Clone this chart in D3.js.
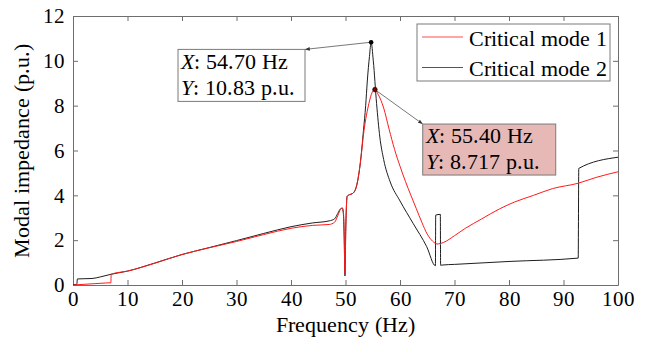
<!DOCTYPE html>
<html>
<head>
<meta charset="utf-8">
<script src="https://cdn.jsdelivr.net/npm/d3@7"></script>
<style>
  @font-face { font-family: 'LocSerif'; src: local('Liberation Serif'), local('LiberationSerif'), local('LiberationSerif-Regular'); }
  @font-face { font-family: 'LocSerif'; font-style: italic; src: local('Liberation Serif Italic'), local('LiberationSerif-Italic'); }
  body { margin: 0; background: #fff; }
</style>
</head>
<body>
<div id="chart"></div>
<script>
// frequency (Hz) and modal impedance (p.u.)
const freq1 = [0, 2, 4, 6, 6.95, 7.0, 10, 15, 20, 25, 30, 35, 40, 44, 47, 48, 48.6, 49.1, 49.4, 49.6, 49.75, 49.9, 50.05, 50.3, 50.5, 51, 51.4, 51.9, 52.7, 53.4, 54.3, 54.9, 55.4, 56, 57, 58, 59, 60, 61, 62, 63, 64, 65, 66, 66.8, 68, 70, 72, 75, 78.3, 81, 84.5, 88, 92.7, 96, 100];
const mode1 = [0.0, 0.03, 0.06, 0.09, 0.1, 0.48, 0.62, 0.97, 1.36, 1.66, 1.94, 2.25, 2.53, 2.66, 2.7, 2.8, 3.1, 3.38, 3.45, 3.3, 2.4, 0.5, 2.5, 3.95, 4.0, 4.05, 4.1, 4.3, 5.4, 6.9, 8.1, 8.6, 8.717, 8.5, 7.9, 6.95, 6.05, 5.3, 4.62, 4.0, 3.4, 2.8, 2.27, 1.95, 1.83, 1.9, 2.2, 2.53, 2.95, 3.4, 3.7, 4.0, 4.3, 4.54, 4.8, 5.05];

const freq2 = [0, 0.7, 0.8, 2, 3.5, 5, 7, 10, 15, 20, 25, 30, 35, 40, 44, 47, 48, 48.6, 49.1, 49.4, 49.6, 49.75, 49.9, 50.05, 50.3, 50.5, 51, 51.4, 51.7, 52.2, 52.7, 53.3, 53.7, 54.0, 54.4, 54.7, 55.1, 55.7, 56.3, 57.0, 58.2, 60, 62.4, 64.9, 66.5, 66.55, 67.4, 67.45, 67.7, 70, 80, 92.7, 92.8, 100];
const mode2 = [0.02, 0.02, 0.27, 0.28, 0.29, 0.36, 0.48, 0.62, 0.98, 1.36, 1.67, 1.98, 2.3, 2.6, 2.77, 2.86, 2.95, 3.2, 3.4, 3.42, 3.2, 2.2, 0.4, 2.5, 3.95, 4.0, 4.05, 4.1, 4.2, 4.6, 5.4, 6.9, 8.0, 9.1, 10.2, 10.83, 10.0, 8.1, 6.6, 5.6, 4.6, 3.75, 2.75, 1.71, 0.86, 3.12, 3.15, 0.88, 0.89, 0.92, 1.05, 1.2, 5.2, 5.7];

const seriesNames = ['Critical mode 1', 'Critical mode 2'];
const xTicks = [0, 10, 20, 30, 40, 50, 60, 70, 80, 90, 100];
const yTicks = [0, 2, 4, 6, 8, 10, 12];

// data tips: point and the box corner the arrow points to
const tip2 = { x: 54.70, y: 10.83, bx: 42.57, by: 10.51, label: ['54.70 Hz', '10.83 p.u.'] };
const tip1 = { x: 55.40, y: 8.717, bx: 64.17, by: 7.18, label: ['55.40 Hz', '8.717 p.u.'] };

const serif = "LocSerif, 'Liberation Serif', serif";

const W = 646, H = 341;
const margin = { top: 16, right: 28, bottom: 56, left: 73 };
const width = W - margin.left - margin.right;
const height = H - margin.top - margin.bottom;

const svg = d3.select('#chart').append('svg')
    .attr('width', W)
    .attr('height', H);

const g = svg.append('g')
    .attr('transform', `translate(${margin.left},${margin.top})`);

const x = d3.scaleLinear().domain([0, 100]).range([0, width]);
const y = d3.scaleLinear().domain([0, 12]).range([height, 0]);

const axisColor = '#6e6e6e';

// box axes with inward ticks
g.append('g').attr('transform', `translate(0,${height})`)
    .call(d3.axisBottom(x).tickValues(xTicks).tickSizeInner(-5).tickSizeOuter(0).tickPadding(6));
g.append('g')
    .call(d3.axisTop(x).tickValues(xTicks).tickSizeInner(-5).tickSizeOuter(0).tickFormat(''));
g.append('g')
    .call(d3.axisLeft(y).tickValues(yTicks).tickSizeInner(-5).tickSizeOuter(0).tickPadding(8));
g.append('g').attr('transform', `translate(${width},0)`)
    .call(d3.axisRight(y).tickValues(yTicks).tickSizeInner(-5).tickSizeOuter(0).tickFormat(''));

g.selectAll('.domain, .tick line').attr('stroke', axisColor);
g.selectAll('.tick text')
    .attr('fill', '#000')
    .style('font-family', serif)
    .style('font-size', '21px');

// axis titles
svg.append('text')
    .attr('x', margin.left + width / 2)
    .attr('y', 332)
    .attr('text-anchor', 'middle')
    .style('font-family', serif)
    .style('font-size', '22px')
    .text('Frequency (Hz)');

svg.append('text')
    .attr('transform', `translate(29,${margin.top + height / 2}) rotate(-90)`)
    .attr('text-anchor', 'middle')
    .style('font-family', serif)
    .style('font-size', '22px')
    .text('Modal impedance (p.u.)');

const line = d3.line()
    .x(d => x(d[0]))
    .y(d => y(d[1]))
    .curve(d3.curveMonotoneX);

const data1 = freq1.map((f, i) => [f, mode1[i]]);
const data2 = freq2.map((f, i) => [f, mode2[i]]);

g.append('path').datum(data2)
    .attr('fill', 'none').attr('stroke', '#1e1e1e').attr('stroke-width', 1)
    .attr('d', line);
g.append('path').datum(data1)
    .attr('fill', 'none').attr('stroke', '#ff1a1a').attr('stroke-width', 1)
    .attr('d', line);

// arrow marker
svg.append('defs').append('marker')
    .attr('id', 'arrow')
    .attr('viewBox', '0 0 10 10')
    .attr('refX', 10).attr('refY', 5)
    .attr('markerWidth', 6).attr('markerHeight', 6)
    .attr('orient', 'auto')
    .append('path').attr('d', 'M0,1L10,5L0,9Z').attr('fill', '#333');

function tipText(tip, left, top) {
    tip.label.forEach((t, i) => {
        const tx = g.append('text')
            .attr('x', left + 3)
            .attr('y', top + 20 + i * 25.5)
            .style('font-family', serif)
            .style('font-size', '22px');
        tx.append('tspan').style('font-style', 'italic').text(i === 0 ? 'X' : 'Y');
        tx.append('tspan').text(': ' + t);
    });
}

// data tip for mode 2 (white box left of the peak)
const box2W = 127, boxH = 52;
g.append('line')
    .attr('x1', x(tip2.x)).attr('y1', y(tip2.y))
    .attr('x2', x(tip2.bx)).attr('y2', y(tip2.by))
    .attr('stroke', '#555').attr('stroke-width', 0.8)
    .attr('marker-end', 'url(#arrow)');
g.append('rect')
    .attr('x', x(tip2.bx) - box2W).attr('y', y(tip2.by))
    .attr('width', box2W).attr('height', boxH)
    .attr('fill', '#fff').attr('stroke', '#7a7a7a');
tipText(tip2, x(tip2.bx) - box2W, y(tip2.by));
g.append('circle')
    .attr('cx', x(tip2.x)).attr('cy', y(tip2.y)).attr('r', 2.3)
    .attr('fill', '#000');

// data tip for mode 1 (pink box right of the peak)
const box1W = 133;
g.append('line')
    .attr('x1', x(tip1.x)).attr('y1', y(tip1.y))
    .attr('x2', x(tip1.bx)).attr('y2', y(tip1.by))
    .attr('stroke', '#555').attr('stroke-width', 0.8)
    .attr('marker-end', 'url(#arrow)');
g.append('rect')
    .attr('x', x(tip1.bx)).attr('y', y(tip1.by))
    .attr('width', box1W).attr('height', boxH - 1)
    .attr('fill', '#e6b9b6').attr('stroke', '#7a7a7a');
tipText(tip1, x(tip1.bx), y(tip1.by) - 1);
g.append('circle')
    .attr('cx', x(tip1.x)).attr('cy', y(tip1.y)).attr('r', 2.3)
    .attr('fill', '#7a0000').attr('stroke', '#000').attr('stroke-width', 0.6);

// legend
const legend = svg.append('g').attr('transform', 'translate(417,24)');
legend.append('rect')
    .attr('width', 193).attr('height', 57)
    .attr('fill', '#fff').attr('stroke', '#7a7a7a');
const legendColors = ['#ff4d4d', '#555'];
seriesNames.forEach((name, i) => {
    const ly = 13 + i * 30.5;
    legend.append('line')
        .attr('x1', 5).attr('x2', 46)
        .attr('y1', ly).attr('y2', ly)
        .attr('stroke', legendColors[i]).attr('stroke-width', 1);
    legend.append('text')
        .attr('x', 52).attr('y', ly + 8.5)
        .style('font-family', serif)
        .style('font-size', '22px')
        .text(name);
});
</script>
</body>
</html>
